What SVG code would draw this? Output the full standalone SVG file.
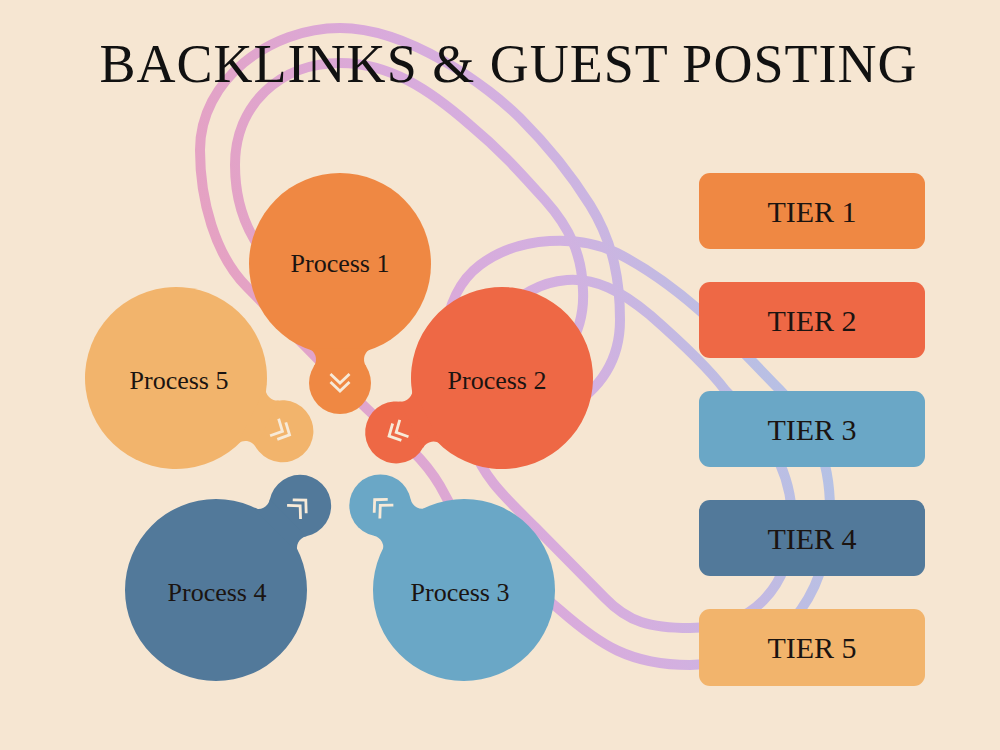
<svg xmlns="http://www.w3.org/2000/svg" xmlns:xlink="http://www.w3.org/1999/xlink" width="1000" height="750" viewBox="0 0 1000 750">
  <defs>
    <linearGradient id="loopGrad" gradientUnits="userSpaceOnUse" x1="200" y1="500" x2="850" y2="300">
      <stop offset="0" stop-color="#eb9fb8"/>
      <stop offset="0.2" stop-color="#e2a3c8"/>
      <stop offset="0.45" stop-color="#d9aadb"/>
      <stop offset="0.6" stop-color="#d3b0e0"/>
      <stop offset="0.8" stop-color="#bdbde3"/>
      <stop offset="1" stop-color="#aec6e6"/>
    </linearGradient>
    <g id="unit">
      <circle cx="0" cy="0" r="91"/>
      <circle cx="119" cy="0" r="31"/>
      <path d="M84.22,31.73 A12,12 0 0 1 102.02,25.93 L102.02,-25.93 A12,12 0 0 1 84.22,-31.73 Z"/>
      <path d="M111,-8.5 L119,0 L111,8.5 M119,-8.5 L127,0 L119,8.5" fill="none" stroke="#f7ead8" stroke-width="2.8" stroke-linecap="square"/>
    </g>
    <style>
      .loop { fill: none; stroke: url(#loopGrad); stroke-width: 10; stroke-linecap: round; }
      .plabel { font-family: "Liberation Serif", "DejaVu Serif", serif; font-size: 26px; fill: #1b1411; text-anchor: middle; }
      .tlabel { font-family: "Liberation Serif", "DejaVu Serif", serif; font-size: 30px; fill: #1b1411; text-anchor: middle; }
      .title { font-family: "Liberation Serif", "DejaVu Serif", serif; font-size: 54px; fill: #111111; text-anchor: middle; }
    </style>
  </defs>

  <rect x="0" y="0" width="1000" height="750" fill="#f6e6d2"/>

  <g id="connectors">
    <path class="loop" d="M565,410 C600,390 620,360 620,320 C620,285 615,245 590,205 C575,181 550,148 520,118 C490,88 410,28 340,28 C270,28 200,80 200,150 C200,200 215,255 247,287 L360,402 C395,437 425,455 445,495 C470,545 520,575 560,610 C600,645 630,665 690,665 C775,665 830,600 830,510 C830,455 812,422 780,390 C745,355 690,290 617,253 C580,235 520,235 480,265 C460,280 448,305 445,335"/>
    <path class="loop" d="M568,348 C580,330 584,310 583,290 C582,255 570,228 545,200 C520,172 500,150 470,125 C430,90 390,63 340,63 C280,63 235,105 235,165 C235,200 245,230 265,255"/>
    <path class="loop" d="M505,312 C518,296 540,282 567,280 C595,278 620,290 650,315 C690,350 710,370 725,390 C760,425 792,465 792,520 C792,590 750,628 690,628 C650,628 628,622 605,598 L535,527 C505,497 485,480 472,445"/>
  </g>

  <text id="title" class="title" x="508" y="82" textLength="817" lengthAdjust="spacing">BACKLINKS &amp; GUEST POSTING</text>

  <g id="process1">
    <use xlink:href="#unit" href="#unit" fill="#ef8843" transform="translate(340,264) rotate(90)"/>
    <text class="plabel" x="340" y="272">Process 1</text>
  </g>
  <g id="process2">
    <use xlink:href="#unit" href="#unit" fill="#ee6845" transform="translate(502,378) rotate(152.8)"/>
    <text class="plabel" x="497" y="389">Process 2</text>
  </g>
  <g id="process3">
    <use xlink:href="#unit" href="#unit" fill="#6aa7c6" transform="translate(464,590) rotate(225.3)"/>
    <text class="plabel" x="460" y="601">Process 3</text>
  </g>
  <g id="process4">
    <use xlink:href="#unit" href="#unit" fill="#52799a" transform="translate(216,590) rotate(-45)"/>
    <text class="plabel" x="217" y="601">Process 4</text>
  </g>
  <g id="process5">
    <use xlink:href="#unit" href="#unit" fill="#f2b46c" transform="translate(176,378) rotate(26.6)"/>
    <text class="plabel" x="179" y="389">Process 5</text>
  </g>

  <g id="tier1">
    <rect x="699" y="173" width="226" height="76" rx="11" fill="#ef8843"/>
    <text class="tlabel" x="812" y="222">TIER 1</text>
  </g>
  <g id="tier2">
    <rect x="699" y="282" width="226" height="76" rx="11" fill="#ee6845"/>
    <text class="tlabel" x="812" y="331">TIER 2</text>
  </g>
  <g id="tier3">
    <rect x="699" y="391" width="226" height="76" rx="11" fill="#6aa7c6"/>
    <text class="tlabel" x="812" y="440">TIER 3</text>
  </g>
  <g id="tier4">
    <rect x="699" y="500" width="226" height="76" rx="11" fill="#52799a"/>
    <text class="tlabel" x="812" y="549">TIER 4</text>
  </g>
  <g id="tier5">
    <rect x="699" y="609" width="226" height="77" rx="11" fill="#f2b46c"/>
    <text class="tlabel" x="812" y="658">TIER 5</text>
  </g>
</svg>
